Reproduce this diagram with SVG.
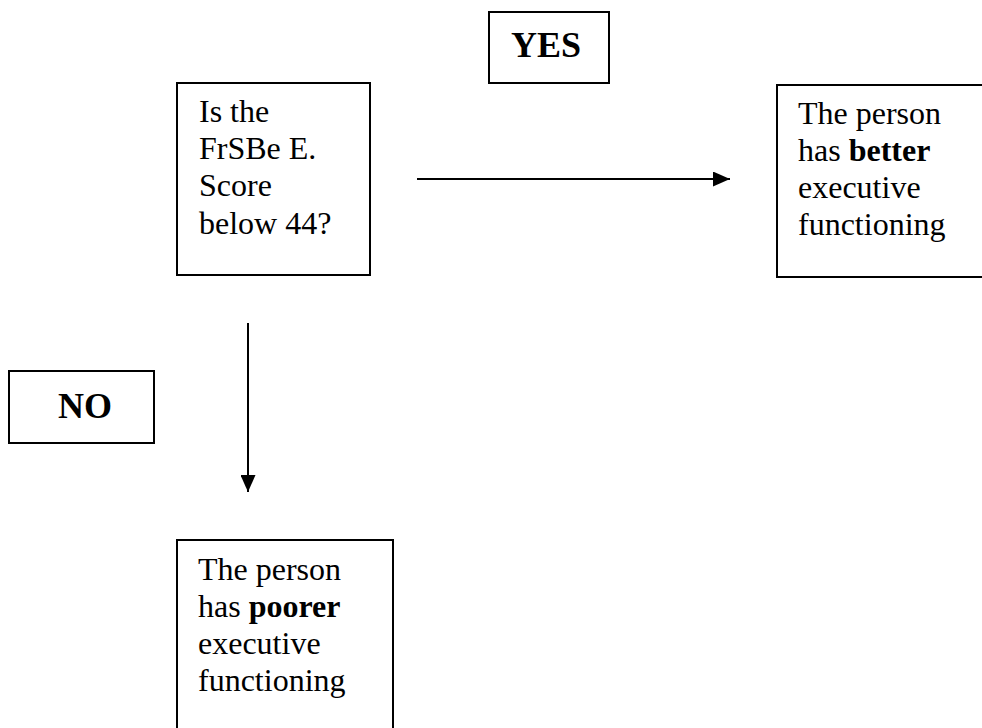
<svg xmlns="http://www.w3.org/2000/svg" width="982" height="728" viewBox="0 0 982 728">
<style>
.box{fill:#fff;stroke:#000;stroke-width:2}
.t{font-family:"Liberation Serif","Times New Roman",serif;font-size:32px;fill:#000}
.lbl{font-family:"Liberation Serif","Times New Roman",serif;font-size:36px;font-weight:bold;fill:#000}
.b{font-weight:bold}
.conn{stroke:#000;stroke-width:2;fill:none}
</style>
<defs>
<marker id="ah" viewBox="0 0 17 15" refX="17" refY="7.5" markerUnits="userSpaceOnUse" markerWidth="17" markerHeight="15" orient="auto">
<path d="M0,0 L17,7.5 L0,15 Z" fill="#000"/>
</marker>
</defs>
<rect width="982" height="728" fill="#fff"/>
<g id="connectors">
<line class="conn" x1="417" y1="179" x2="730" y2="179" marker-end="url(#ah)"/>
<line class="conn" x1="248" y1="323" x2="248" y2="492" marker-end="url(#ah)"/>
</g>
<g id="question">
<rect class="box" x="177" y="83" width="193" height="192"/>
<text class="t" x="199" y="122">Is the</text>
<text class="t" x="199" y="159">FrSBe E.</text>
<text class="t" x="199" y="196">Score</text>
<text class="t" x="199" y="234">below 44?</text>
</g>
<g id="yes">
<rect class="box" x="489" y="12" width="120" height="71"/>
<text class="lbl" x="546" y="57" text-anchor="middle">YES</text>
</g>
<g id="better">
<rect class="box" x="777" y="85" width="210" height="192"/>
<text class="t" x="798" y="124">The person</text>
<text class="t" x="798" y="161">has <tspan class="b">better</tspan></text>
<text class="t" x="798" y="198">executive</text>
<text class="t" x="798" y="235">functioning</text>
</g>
<g id="no">
<rect class="box" x="9" y="371" width="145" height="72"/>
<text class="lbl" x="85" y="418" text-anchor="middle">NO</text>
</g>
<g id="poorer">
<rect class="box" x="177" y="540" width="216" height="200"/>
<text class="t" x="198" y="580">The person</text>
<text class="t" x="198" y="617">has <tspan class="b">poorer</tspan></text>
<text class="t" x="198" y="654">executive</text>
<text class="t" x="198" y="691">functioning</text>
</g>
</svg>
